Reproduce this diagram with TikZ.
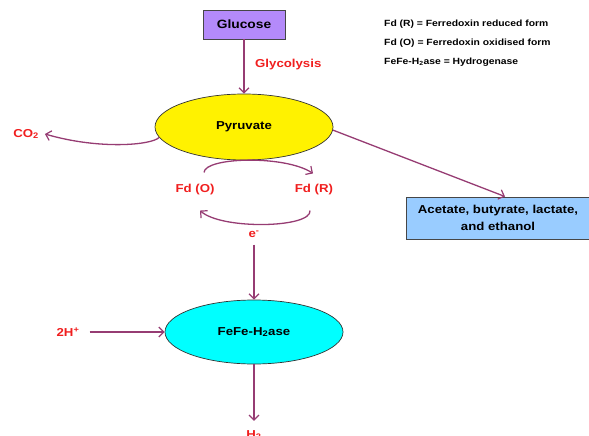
\documentclass[tikz,border=0pt]{standalone}
\usepackage{fontspec}
\setmainfont{Liberation Sans}[FakeStretch=1.15]
\usetikzlibrary{shapes.geometric,arrows.meta}
\definecolor{arr}{RGB}{150,60,115}
\definecolor{lav}{RGB}{180,138,250}
\definecolor{lblue}{RGB}{153,204,255}
\definecolor{cyanf}{RGB}{0,255,255}
\definecolor{redt}{RGB}{240,30,30}
\definecolor{bord}{RGB}{70,70,70}
\tikzset{
  flow/.style={draw=arr, line width=1.3pt, -{Straight Barb[length=5pt,width=10pt,line width=1.2pt]}},
  lbl/.style={text=redt, font=\fontsize{11.5}{13}\selectfont\bfseries, inner sep=0pt},
  boxn/.style={draw=bord, line width=0.9pt, font=\fontsize{11.5}{17}\selectfont\bfseries, inner sep=0pt, align=center},
  ell/.style={ellipse, draw=black!80, line width=0.7pt, font=\fontsize{11.5}{13}\selectfont\bfseries, inner sep=0pt},
  legend/.style={anchor=west, inner sep=0pt, font=\fontsize{9}{10}\selectfont\bfseries}
}
\begin{document}
\begin{tikzpicture}[x=1pt,y=-1pt]
\useasboundingbox (0,0) rectangle (589,436);
% nodes
\node[boxn, fill=lav, minimum width=82pt, minimum height=29pt, font=\fontsize{12}{14}\selectfont\bfseries] (glu) at (244,24.5) {Glucose};
\node[ell, fill=yellow, minimum width=178pt, minimum height=66pt] (pyr) at (244,127) {Pyruvate};
\node[ell, fill=cyanf, minimum width=178pt, minimum height=64pt] (hyd) at (254,332) {FeFe-H\textsubscript{2}ase};
\node[boxn, fill=lblue, minimum width=184pt, minimum height=42pt] (acet) at (498,218) {Acetate, butyrate, lactate,\\and ethanol};
\node[lbl, anchor=west] (glyc) at (255,65) {Glycolysis};
\node[lbl] (co2) at (26,134) {CO\textsubscript{2}};
\node[lbl] (fdo) at (195,190) {Fd (O)};
\node[lbl] (fdr) at (314,190) {Fd (R)};
\node[lbl] (el) at (254,234) {e\textsuperscript{-}};
\node[lbl] (hp) at (68,332) {2H\textsuperscript{+}};
\node[lbl, anchor=base] (h2) at (254,438) {H\textsubscript{2}};
\node[legend] (l1) at (384,24) {Fd (R) = Ferredoxin reduced form};
\node[legend] (l2) at (384,43) {Fd (O) = Ferredoxin oxidised form};
\node[legend] (l3) at (384,62) {FeFe-H\textsubscript{2}ase = Hydrogenase};
% connectors
\draw[flow] (glu.south) -- (pyr.north);
\draw[flow] (pyr.187) .. controls (152,145) and (100,150) .. ([xshift=6pt]co2.east);
\draw[flow] ([xshift=9pt,yshift=12pt]fdo.north) .. controls (205,157) and (285,155) .. ([xshift=-1pt,yshift=11pt]fdr.north);
\draw[flow] ([xshift=-4pt,yshift=-15pt]fdr.south) .. controls (312,228) and (222,230) .. ([xshift=5pt,yshift=-15pt]fdo.south);
\draw[flow] ([yshift=-7pt]el.south) -- (hyd.north);
\draw[flow] ([xshift=10pt]hyd.west -| hp.east) -- (hyd.west);
\draw[flow] (hyd.south) -- ([yshift=9pt]h2.north);
\draw[flow] (pyr.358) -- ([xshift=7pt]acet.north);
\end{tikzpicture}
\end{document}
